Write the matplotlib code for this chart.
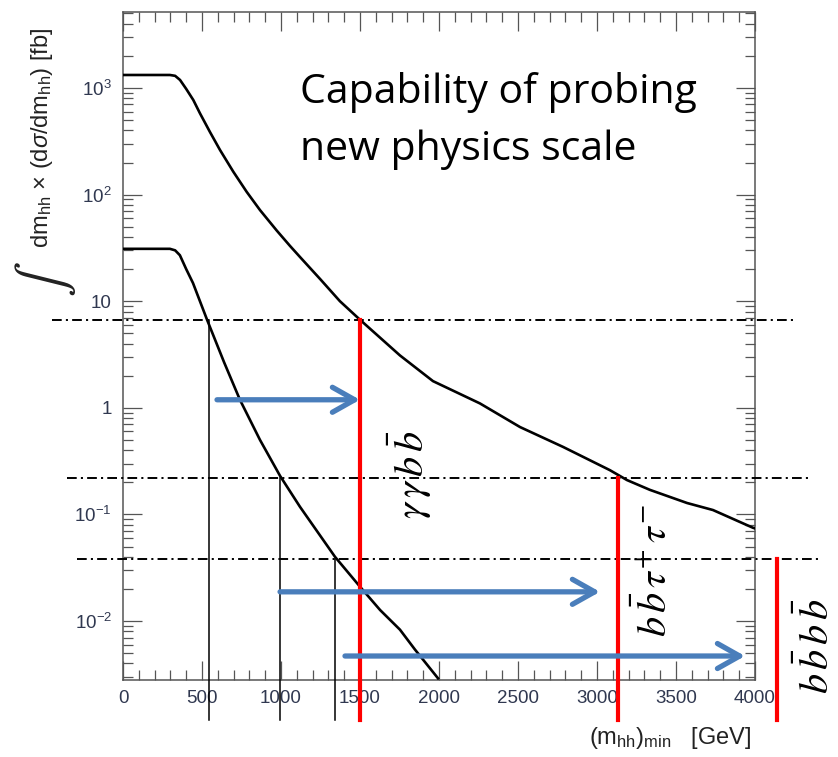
import matplotlib
matplotlib.use('Agg')
import matplotlib.pyplot as plt
from matplotlib.ticker import FixedLocator, LogLocator, NullFormatter, MultipleLocator

plt.rcParams['font.family'] = ['Liberation Sans', 'DejaVu Sans']
plt.rcParams['mathtext.fontset'] = 'custom'
plt.rcParams['mathtext.rm'] = 'Liberation Sans'
plt.rcParams['mathtext.it'] = 'Liberation Sans:italic'
plt.rcParams['mathtext.bf'] = 'Liberation Sans:bold'
plt.rcParams['lines.scale_dashes'] = False

# integrated cross section above (m_hh)_min
mhh_upper = [0, 297, 330, 361, 400, 445, 487, 551, 614, 698, 783, 867, 973,
             1057, 1120, 1250, 1373, 1500, 1753, 1962, 2259, 2513, 2785,
             3082, 3190, 3335, 3570, 3734, 3987, 4000]
xs_upper = [1324, 1324, 1300, 1189, 980, 771, 579, 385, 262, 164, 106, 71.6,
            46, 33, 26, 16, 10, 6.7, 3.1, 1.78, 1.1, 0.66, 0.43,
            0.26, 0.21, 0.17, 0.128, 0.11, 0.075, 0.074]

mhh_lower = [0, 297, 330, 360, 400, 443, 532, 640, 740, 867, 994, 1120,
             1342, 1500, 1627, 1753, 1848, 1994]
xs_lower = [31, 31, 30, 27, 20, 14.8, 6.7, 2.67, 1.19, 0.5, 0.23, 0.118,
            0.040, 0.021, 0.0127, 0.0083, 0.0054, 0.0029]

# sensitivity levels of the three channels and where each curve reaches them
thresholds = [6.7, 0.22, 0.038]
reach_upper = [1500, 3130, 4140]
reach_lower = [545, 995, 1340]
hline_ranges = [(-449, 4240), (-354, 4342), (-291, 4399)]
channels = [r'$\gamma\,\gamma\,b\,\bar{b}$',
            r'$b\,\bar{b}\,\tau^{+}\,\tau^{-}$',
            r'$b\,\bar{b}\,b\,\bar{b}$']
label_pos = [(1816, 0.235), (3367, 0.030), (4392, 0.00585)]

# blue arrows: (y, x start, x end)
arrows = [(1.19, 595, 1500), (0.0188, 994, 3019), (0.0047, 1405, 3937)]

y_floor = 1.18e-3
tick_col = '#303850'
frame_col = '#555555'

fig = plt.figure(figsize=(8.38, 7.57), dpi=100)
ax = fig.add_axes([123/838, 1 - 680/757, 632/838, 668/757])
ax.set_yscale('log')
ax.set_xlim(0, 4000)
ax.set_ylim(2.8e-3, 5.16e3)

ax.plot(mhh_upper, xs_upper, color='black', lw=1.9, zorder=4)
ax.plot(mhh_lower, xs_lower, color='black', lw=1.9, zorder=4)

for i, t in enumerate(thresholds):
    x0, x1 = hline_ranges[i]
    ax.plot([x0, x1], [t, t], color='black', lw=1.4,
            linestyle=(0, (7, 3, 1.5, 3)), clip_on=False, zorder=3)
    ax.plot([reach_upper[i], reach_upper[i]], [y_floor, t], color='#ff0000',
            lw=3.0, clip_on=False, zorder=5)
    ax.plot([reach_lower[i], reach_lower[i]], [y_floor, t], color='black',
            lw=1.1, clip_on=False, zorder=3)

for y, xa, xb in arrows:
    ax.annotate('', xy=(xb, y), xytext=(xa, y),
                arrowprops=dict(arrowstyle='->, head_length=0.8, head_width=0.45',
                                color='#4a7ebb', lw=3.8, shrinkA=0, shrinkB=0,
                                mutation_scale=20),
                annotation_clip=False, zorder=6)

for (lx, ly), lab in zip(label_pos, channels):
    ax.text(lx, ly, lab, rotation=90, ha='center', va='center', fontsize=29,
            math_fontfamily='stix', clip_on=False)

# ROOT-like frame and ticks
for s in ax.spines.values():
    s.set_color(frame_col)
    s.set_linewidth(1.1)
ax.xaxis.set_major_locator(MultipleLocator(500))
ax.xaxis.set_minor_locator(MultipleLocator(100))
ax.yaxis.set_major_locator(FixedLocator([1e-2, 1e-1, 1, 10, 1e2, 1e3]))
ax.set_yticklabels([r'$10^{-2}$', r'$10^{-1}$', '1', '10', r'$10^{2}$', r'$10^{3}$'])
ax.yaxis.set_minor_locator(LogLocator(base=10, subs=range(2, 10), numticks=30))
ax.yaxis.set_minor_formatter(NullFormatter())
ax.tick_params(which='both', direction='in', top=True, right=True,
               color=frame_col, width=0.9, labelcolor=tick_col, labelsize=13.5)
ax.tick_params(which='major', length=14)
ax.tick_params(which='minor', length=7)
ax.tick_params(axis='y', pad=8)
ax.tick_params(axis='x', pad=7)

fig.text(670/838, 1 - 738/757, r'(m$_{\rm hh}$)$_{\rm min}$   [GeV]', ha='center',
         va='center', fontsize=17, color='#222222')
fig.text(42/838, 1 - 138/757, r'dm$_{\rm hh}$ $\times$ (d$\sigma$/dm$_{\rm hh}$) [fb]',
         rotation=90, ha='center', va='center', fontsize=17, color='#222222')
fig.text(45/838, 1 - 279/757, r'$\int$', rotation=90, ha='center', va='center',
         fontsize=38, math_fontfamily='stixsans', color='#222222')

fig.text(300/838, 1 - 103/757, 'Capability of probing', ha='left', va='baseline',
         fontsize=29.5, family='Open Sans')
fig.text(300/838, 1 - 160/757, 'new physics scale', ha='left', va='baseline',
         fontsize=29.5, family='Open Sans')

fig.savefig('out.png', dpi=100)
